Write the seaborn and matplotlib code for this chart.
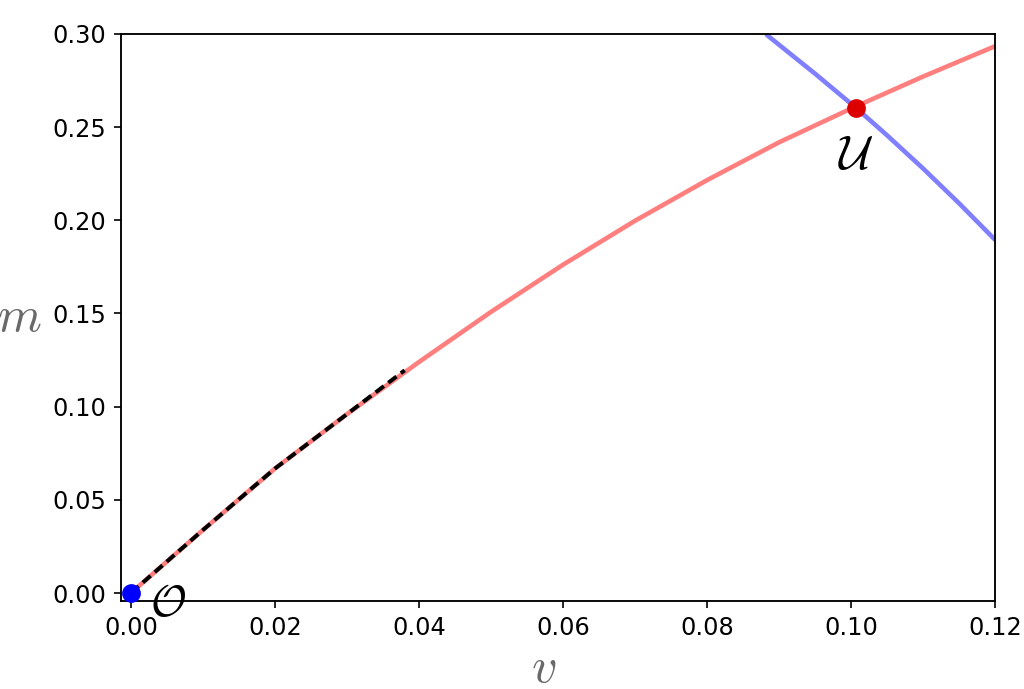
import matplotlib
matplotlib.use("Agg")
import matplotlib.pyplot as plt
import seaborn as sns
import pandas as pd

# red curve (m vs v)
v_red = [0.0, 0.01, 0.02, 0.03, 0.04, 0.05, 0.06, 0.07, 0.08, 0.09, 0.10, 0.11, 0.12]
m_red = [0.0, 0.0338, 0.0668, 0.0960, 0.1240, 0.1509, 0.1762, 0.1998, 0.2216, 0.2419, 0.2600, 0.2772, 0.2935]

# blue curve
v_blue = [0.0883, 0.095, 0.1007, 0.105, 0.11, 0.115, 0.12]
m_blue = [0.2994, 0.2786, 0.2602, 0.2455, 0.2277, 0.2090, 0.1894]

# black dashed segment near origin
v_dash = [0.0, 0.01, 0.02, 0.03, 0.038]
m_dash = [0.0, 0.0338, 0.0668, 0.0960, 0.1195]

# special points
pt_O = (0.0, 0.0)
pt_U = (0.1007, 0.2602)

sns.set_style("ticks")
plt.rcParams['font.family'] = ['DejaVu Sans']
plt.rcParams['mathtext.fontset'] = 'cm'

red_df = pd.DataFrame({'v': v_red, 'm': m_red})
blue_df = pd.DataFrame({'v': v_blue, 'm': m_blue})
dash_df = pd.DataFrame({'v': v_dash, 'm': m_dash})

fig = plt.figure(figsize=(1024 / 150, 689 / 150), dpi=150)
ax = fig.add_axes([0.118, 0.1277, 0.854, 0.8230])

sns.lineplot(data=red_df, x='v', y='m', ax=ax, color=(1, 0, 0, 0.5), lw=2.2,
             sort=False, estimator=None)
sns.lineplot(data=blue_df, x='v', y='m', ax=ax, color=(0, 0, 1, 0.5), lw=2.2,
             sort=False, estimator=None)
sns.lineplot(data=dash_df, x='v', y='m', ax=ax, color='black', lw=1.9,
             linestyle=(0, (2.6, 1.4)), sort=False, estimator=None)

ax.plot(*pt_O, 'o', color='blue', ms=8, clip_on=False, zorder=5)
ax.plot(*pt_U, 'o', color='#dd0000', ms=8, zorder=5)

ax.text(0.1007, 0.235, r'$\mathcal{U}$', fontsize=23, ha='center', va='center',
        color='black')
ax.text(0.0052, -0.0055, r'$\mathcal{O}$', fontsize=21, ha='center', va='center',
        color='black', clip_on=False)

ax.set_xlim(-0.0014, 0.12)
ax.set_ylim(-0.0043, 0.30)
ax.set_xticks([0.0, 0.02, 0.04, 0.06, 0.08, 0.10, 0.12])
ax.set_yticks([0.0, 0.05, 0.10, 0.15, 0.20, 0.25, 0.30])
ax.set_xticklabels(['0.00', '0.02', '0.04', '0.06', '0.08', '0.10', '0.12'])
ax.set_yticklabels(['0.00', '0.05', '0.10', '0.15', '0.20', '0.25', '0.30'])
ax.tick_params(labelsize=11.5, length=3.5, width=0.8, direction='out',
               colors='black', labelcolor='black')
for s in ax.spines.values():
    s.set_visible(True)
    s.set_linewidth(0.9)
    s.set_color('black')

ax.set_xlabel(r'$v$', fontsize=24, color='dimgray')
ax.set_ylabel(r'$m$', fontsize=24, color='dimgray', rotation=0)
ax.xaxis.set_label_coords(0.483, -0.118)
ax.yaxis.set_label_coords(-0.116, 0.5)
ax.xaxis.label.set_va('center')
ax.yaxis.label.set_va('center')
ax.yaxis.label.set_ha('center')

fig.savefig('out.png', dpi=150)
